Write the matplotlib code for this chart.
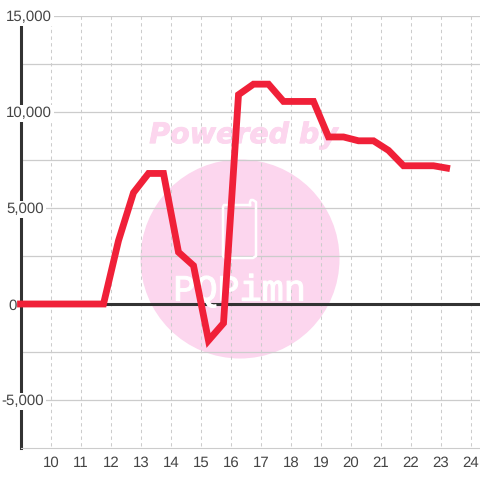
import matplotlib
matplotlib.use("Agg")
import matplotlib.pyplot as plt
import matplotlib.patheffects as pe
from matplotlib.patches import Circle

plt.rcParams["text.hinting"] = "none"
plt.rcParams["text.hinting_factor"] = 1

hours = [8.87, 9.25, 9.75, 10.25, 10.75, 11.25, 11.75, 12.25, 12.75, 13.25, 13.75, 14.25, 14.75,
         15.25, 15.75, 16.25, 16.75, 17.25, 17.75, 18.25, 18.75, 19.25, 19.75, 20.25,
         20.75, 21.25, 21.75, 22.25, 22.75, 23.3]
values = [0, 0, 0, 0, 0, 0, 0, 3300, 5800, 6800, 6800, 2700, 2000,
          -1900, -1000, 10900, 11450, 11450, 10550, 10550, 10550, 8700, 8700, 8500,
          8500, 8000, 7200, 7200, 7200, 7050]
x_ticks = list(range(10, 25))
y_labeled = [15000, 10000, 5000, 0, -5000]
y_labels = ["15,000", "10,000", "5,000", "0", "-5,000"]
y_minor = [12500, 7500, 2500, -2500]

W = H = 480
L, T, B = 20.5, 16.0, 448.0
X10 = 51.0
fig = plt.figure(figsize=(4.8, 4.8), dpi=100, facecolor="white")

bg = fig.add_axes([0, 0, 1, 1], zorder=0)
bg.set_xlim(0, W); bg.set_ylim(H, 0); bg.axis("off")
PINK = "#fcd6ee"
bg.add_patch(Circle((240, 259), 99.5, fc=PINK, ec="none"))
bg.text(242, 135.5, "Powered by", color=PINK, family="DejaVu Sans", weight="bold",
        style="italic", fontsize=20.5, ha="center", va="center",
        path_effects=[pe.withStroke(linewidth=0.6, foreground=PINK)])

ax = fig.add_axes([L / W, 1 - B / H, (W - L) / W, (B - T) / H], zorder=1)
ax.patch.set_alpha(0)
ax.set_xlim(10 + (L - X10) / 30, 10 + (W - X10) / 30)
ax.set_ylim(-7500, 15000)

GRID = "#cccccc"
DARK = "#333333"
TXT = "#444444"
for v in y_labeled + y_minor:
    if v != 0:
        ax.axhline(v, color=GRID, lw=0.9, zorder=1)
ax.vlines(x_ticks, -7400, 15000, color=GRID, lw=0.75, linestyles=(0, (3.2, 3.2)), zorder=1)
ax.axhline(0, color=DARK, lw=2.2, zorder=2)
ax.set_xticks([]); ax.set_yticks([])
for s in ax.spines.values():
    s.set_visible(False)

over = fig.add_axes([0, 0, 1, 1], zorder=2)
over.set_xlim(0, W); over.set_ylim(H, 0); over.axis("off"); over.patch.set_alpha(0)
over.plot([250, 224, 223, 223, 225, 253, 256, 256, 253, 251, 250, 250],
          [205, 205, 207, 256, 258, 258, 256, 202, 200, 200, 202, 205],
          color="white", lw=1.8, solid_joinstyle="round")
over.text(240, 291, "PQPimn", color="white", family="Liberation Mono",
          fontsize=26.5, ha="center", va="center",
          path_effects=[pe.withStroke(linewidth=0.8, foreground="white")])

top = fig.add_axes([L / W, 1 - B / H, (W - L) / W, (B - T) / H], zorder=3)
top.patch.set_alpha(0)
top.set_axisbelow(False)
top.set_xlim(ax.get_xlim()); top.set_ylim(ax.get_ylim())
top.plot(hours, values, color="#f02038", lw=4.9, solid_joinstyle="miter",
         solid_capstyle="butt", zorder=5, clip_on=False)
for s in ["top", "right"]:
    top.spines[s].set_visible(False)
top.spines["left"].set_color(DARK); top.spines["left"].set_linewidth(2.2)
top.spines["bottom"].set_color(GRID); top.spines["bottom"].set_linewidth(0.8)
top.set_xticks(x_ticks)
top.set_yticks(y_labeled, y_labels)
top.tick_params(length=0)
top.tick_params(axis="x", pad=5.5, labelsize=11, labelcolor=TXT)
top.tick_params(axis="y", pad=0, labelsize=11, labelcolor=TXT)
for lab in top.get_xticklabels():
    lab.set_family("Liberation Sans")
right_edges = [52, 52, 44, 17, 44]
for lab, r in zip(top.get_yticklabels(), right_edges):
    lab.set_family("Liberation Sans")
    lab.set_ha("right")
    lab.set_x((r - L) / (W - L))
    lab.set_bbox(dict(fc="white", ec="none", pad=1.2))

fig.savefig("out.png", dpi=100)
